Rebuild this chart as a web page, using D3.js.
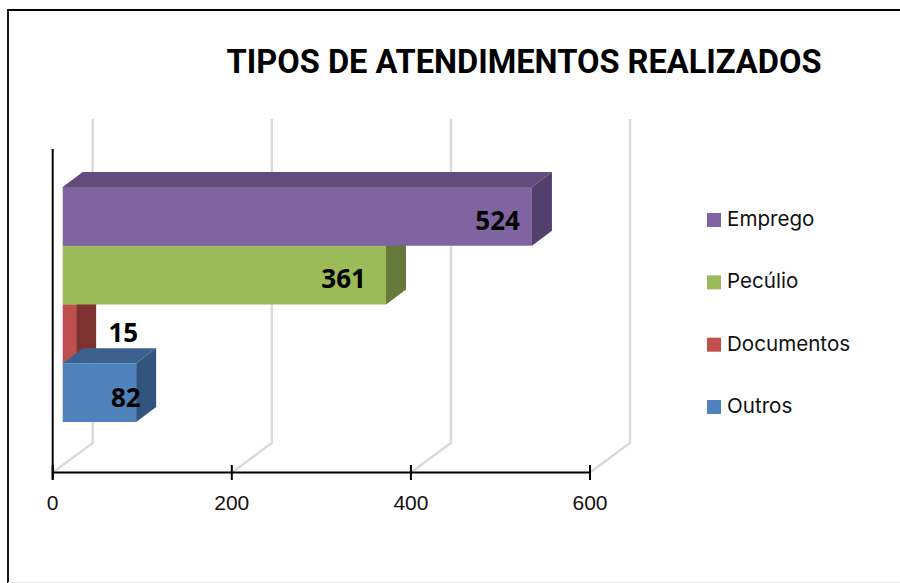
<!DOCTYPE html>
<html>
<head>
<meta charset="utf-8">
<script src="https://cdn.jsdelivr.net/npm/d3@7"></script>
<style>
html, body { margin: 0; padding: 0; background: #fff; }
svg { display: block; }
</style>
</head>
<body>
<div id="root"></div>
<script>
const w = 900, h = 583

// data
const categories = ["Outros", "Documentos", "Pecúlio", "Emprego"]
const values = [82, 15, 361, 524]
const colors = ["#4f81bd", "#c0504d", "#9bbb59", "#8064a2"]
const topColors = ["#3c618f", "#91403d", "#7a9447", "#624c7c"]
const sideColors = ["#33547d", "#7d3230", "#66793a", "#533f6b"]
const legendOrder = ["Emprego", "Pecúlio", "Documentos", "Outros"]
const drawOrder = ["Documentos", "Outros", "Pecúlio", "Emprego"]
const xTicks = [0, 200, 400, 600]
const title = "TIPOS DE ATENDIMENTOS REALIZADOS"

// 3d offsets of the chart box and of each bar
const wallDx = 40, wallDy = -29.5
const barDx = 20, barDy = -15
const barInset = 10

const x = d3.scaleLinear().domain([0, 600]).range([52.7, 590])
const y = d3.scaleBand().domain(categories.slice().reverse()).range([187, 422])

const svg = d3.select("#root").append("svg")
    .attr("width", w)
    .attr("height", h)

// outer frame
svg.append("path")
    .attr("d", "M8,583V10H900")
    .attr("fill", "none")
    .attr("stroke", "#000")
    .attr("stroke-width", 1.8)
svg.append("line")
    .attr("x1", 8).attr("x2", 900).attr("y1", 582.5).attr("y2", 582.5)
    .attr("stroke", "#e8e8e8")

svg.append("text")
    .attr("x", 524)
    .attr("y", 73)
    .attr("text-anchor", "middle")
    .attr("font-family", "Roboto")
    .attr("font-weight", 700)
    .attr("font-size", 33)
    .attr("textLength", 595)
    .attr("lengthAdjust", "spacingAndGlyphs")
    .attr("fill", "#000")
    .text(title)

// grid on floor and back wall
const axisY = 472.5
svg.selectAll("path.grid").data(xTicks).enter().append("path")
    .attr("class", "grid")
    .attr("d", d => `M${x(d)},${axisY}L${x(d) + wallDx},${axisY + wallDy}V119`)
    .attr("fill", "none")
    .attr("stroke", "#d9d9d9")
    .attr("stroke-width", 2.4)

// bars
const bars = svg.selectAll("g.bar").data(drawOrder).enter().append("g").attr("class", "bar")

bars.each(function (name) {
    const i = categories.indexOf(name)
    const g = d3.select(this)
    const x0 = x(0) + barInset
    const x1 = x(values[i]) + barInset
    const y0 = y(name)
    const y1 = y0 + y.bandwidth()
    g.append("path")
        .attr("d", `M${x0},${y0}l${barDx},${barDy}H${x1 + barDx}l${-barDx},${-barDy}Z`)
        .attr("fill", topColors[i])
    g.append("path")
        .attr("d", `M${x1},${y0}l${barDx},${barDy}V${y1 + barDy}l${-barDx},${-barDy}Z`)
        .attr("fill", sideColors[i])
    g.append("rect")
        .attr("x", x0)
        .attr("y", y0)
        .attr("width", x1 - x0)
        .attr("height", y1 - y0)
        .attr("fill", colors[i])
})

// labels were placed by hand in the original, so each has its own shift from the bar end
const labelDx = { Emprego: -12, "Pecúlio": -20, Documentos: 62, Outros: 4.5 }
const labelDy = { Emprego: 14, "Pecúlio": 13, Documentos: 8, Outros: 14 }
svg.selectAll("text.value").data(categories).enter().append("text")
    .attr("class", "value")
    .attr("x", (d, i) => x(values[i]) + barInset + labelDx[d])
    .attr("y", d => y(d) + y.bandwidth() / 2 + labelDy[d])
    .attr("text-anchor", "end")
    .attr("font-family", "'Open Sans'")
    .attr("font-weight", 700)
    .attr("font-size", 26)
    .attr("fill", "#000")
    .text((d, i) => values[i])

// axes
svg.append("path")
    .attr("d", `M${x(0)},149V${axisY + 7}`)
    .attr("stroke", "#000")
    .attr("stroke-width", 2)
svg.append("path")
    .attr("d", `M${x(0)},${axisY}H${x(600)}`)
    .attr("stroke", "#000")
    .attr("stroke-width", 2)
svg.selectAll("line.tick").data(xTicks).enter().append("line")
    .attr("class", "tick")
    .attr("x1", d => x(d))
    .attr("x2", d => x(d))
    .attr("y1", axisY - 7.5)
    .attr("y2", axisY + 7.5)
    .attr("stroke", "#000")
    .attr("stroke-width", 2)
svg.selectAll("text.tickLabel").data(xTicks).enter().append("text")
    .attr("class", "tickLabel")
    .attr("x", d => x(d))
    .attr("y", 510)
    .attr("text-anchor", "middle")
    .attr("font-family", "'Liberation Sans'")
    .attr("font-size", 21)
    .attr("fill", "#111")
    .text(d => d)

// legend
const legendY = d3.scalePoint().domain(legendOrder).range([220, 407])
const legend = svg.selectAll("g.legend").data(legendOrder).enter().append("g").attr("class", "legend")
legend.append("rect")
    .attr("x", 707)
    .attr("y", d => legendY(d) - 7)
    .attr("width", 14)
    .attr("height", 14)
    .attr("fill", d => colors[categories.indexOf(d)])
legend.append("text")
    .attr("x", 727)
    .attr("y", d => legendY(d) + 6)
    .attr("font-family", "Inter")
    .attr("font-size", 20.6)
    .attr("fill", "#111")
    .text(d => d)
</script>
</body>
</html>
